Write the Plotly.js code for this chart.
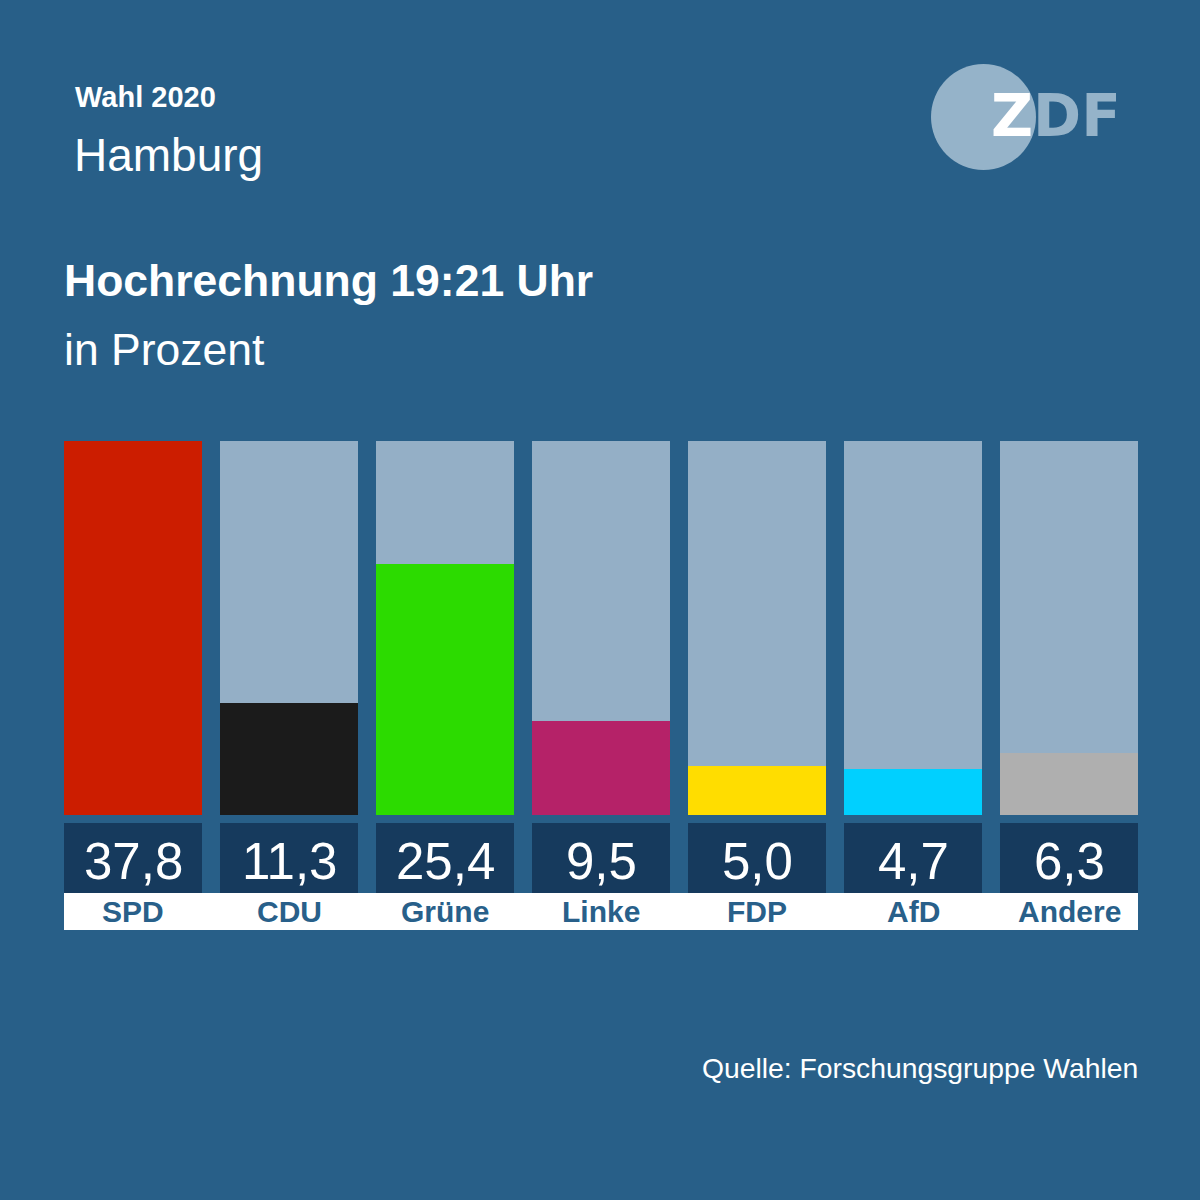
<!DOCTYPE html>
<html>
<head>
<meta charset="utf-8">
<script src="https://cdn.plot.ly/plotly-3.0.1.min.js"></script>
<style>
  html, body { margin: 0; padding: 0; background: #285f88; }
  #chart { width: 1200px; height: 1200px; }
</style>
</head>
<body>
<div id="chart"></div>
<script>
// ---- Data ----
const parties = ["SPD", "CDU", "Grüne", "Linke", "FDP", "AfD", "Andere"];
const values = [37.8, 11.3, 25.4, 9.5, 5.0, 4.7, 6.3];
const valueLabels = ["37,8", "11,3", "25,4", "9,5", "5,0", "4,7", "6,3"];
const partyColors = ["#cc1d00", "#1b1b1b", "#2cdb00", "#b52268", "#ffdd00", "#00d0ff", "#afafaf"];

// ---- Style ----
const BG = "#285f88";
const TRACK = "#94afc6";
const BOX = "#163a5d";
const FONT = "Liberation Sans, Arial, Helvetica, sans-serif";
const W = 1200, H = 1200;
const BARW = 0.8846;           // bar width in category units
const PX_PER_UNIT = 156;       // category pitch in px
const xLeft = -BARW / 2 - 64 / PX_PER_UNIT;
const xRange = [xLeft, xLeft + W / PX_PER_UNIT];
const py = p => (H - p) / H;   // pixel row -> paper y

const idx = parties.map((_, i) => i);
const maxVal = Math.max(...values);

const traces = [
  {
    type: "bar", x: idx, y: values.map(() => maxVal), width: BARW,
    marker: { color: TRACK, line: { width: 0 } }, hoverinfo: "skip", showlegend: false
  },
  {
    type: "bar", x: idx, y: values, width: BARW,
    marker: { color: partyColors, line: { width: 0 } }, hoverinfo: "skip", showlegend: false
  }
];

const shapes = [];
// label strip
shapes.push({
  type: "rect", xref: "x", yref: "paper",
  x0: -BARW / 2, x1: (parties.length - 1) + BARW / 2,
  y0: py(930), y1: py(893), fillcolor: "#ffffff", line: { width: 0 }
});
// value boxes
idx.forEach(i => shapes.push({
  type: "rect", xref: "x", yref: "paper",
  x0: i - BARW / 2, x1: i + BARW / 2,
  y0: py(893), y1: py(823), fillcolor: BOX, line: { width: 0 }
}));
// logo circle
shapes.push({
  type: "circle", xref: "paper", yref: "paper",
  x0: 931 / W, x1: 1036 / W, y0: py(170), y1: py(64),
  fillcolor: "#95b3c9", line: { width: 0 }
});

const annotations = [];
idx.forEach(i => {
  annotations.push({
    x: i, xref: "x", y: py(861), yref: "paper", yanchor: "middle", xanchor: "center",
    text: valueLabels[i], showarrow: false,
    font: { family: FONT, size: 51, color: "#ffffff", weight: 300 }
  });
  annotations.push({
    x: i, xref: "x", y: py(911), yref: "paper", yanchor: "middle", xanchor: "center",
    text: "<b>" + parties[i] + "</b>", showarrow: false,
    font: { family: FONT, size: 30, color: "#28608a" }
  });
});

function label(text, xpx, ypx, size, opts = {}) {
  annotations.push(Object.assign({
    x: xpx / W, xref: "paper", y: py(ypx), yref: "paper",
    xanchor: "left", yanchor: "middle", showarrow: false, text: text,
    font: { family: FONT, size: size, color: "#ffffff" }
  }, opts));
}
label("<b>Wahl 2020</b>", 73, 97, 29);
label("Hamburg", 72, 155, 46);
label("<b>Hochrechnung 19:21 Uhr</b>", 62, 281, 44.5);
label("in Prozent", 62, 350, 44.5);
label("Quelle: Forschungsgruppe Wahlen", 1140, 1068, 28.3, { xanchor: "right" });
label("<b><span style='color:#ffffff'>Z</span>DF</b>", 989, 116, 58,
  { font: { family: "DejaVu Sans, " + FONT, size: 58, color: "#95b3c9" } });

const layout = {
  width: W, height: H,
  margin: { l: 0, r: 0, t: 0, b: 0 },
  paper_bgcolor: BG, plot_bgcolor: BG,
  barmode: "overlay", bargap: 0,
  showlegend: false,
  xaxis: { range: xRange, visible: false, fixedrange: true },
  yaxis: { domain: [py(815), py(441)], range: [0, maxVal], visible: false, fixedrange: true },
  shapes: shapes,
  annotations: annotations
};

Plotly.newPlot("chart", traces, layout, { staticPlot: true, displayModeBar: false });
</script>
</body>
</html>
